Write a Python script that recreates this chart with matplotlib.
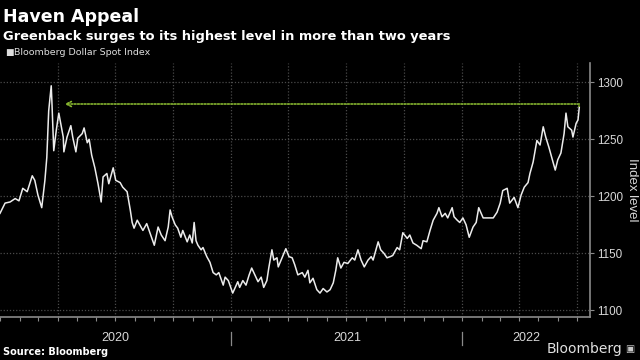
import matplotlib
matplotlib.use("Agg")
import matplotlib.pyplot as plt
import matplotlib.dates as mdates
import pandas as pd

dates = [
    "2020-01-01","2020-01-09","2020-01-17","2020-01-25","2020-01-31","2020-02-06","2020-02-13","2020-02-21",
    "2020-02-25","2020-03-01","2020-03-07","2020-03-12","2020-03-15","2020-03-18","2020-03-22","2020-03-23",
    "2020-03-26","2020-03-30","2020-04-03","2020-04-10","2020-04-11","2020-04-16","2020-04-22","2020-04-25",
    "2020-04-30","2020-05-03","2020-05-10","2020-05-13","2020-05-18","2020-05-21","2020-05-25","2020-05-30",
    "2020-06-04","2020-06-09","2020-06-12","2020-06-18","2020-06-21","2020-06-28","2020-07-02","2020-07-09",
    "2020-07-13","2020-07-20","2020-07-25","2020-07-28","2020-07-31","2020-08-05","2020-08-09","2020-08-14",
    "2020-08-20","2020-08-25","2020-09-01","2020-09-07","2020-09-12","2020-09-18","2020-09-23","2020-09-26",
    "2020-09-29","2020-10-04","2020-10-08","2020-10-13","2020-10-16","2020-10-23","2020-10-27","2020-10-31",
    "2020-11-03","2020-11-06","2020-11-09","2020-11-14","2020-11-17","2020-11-23","2020-11-28","2020-12-03",
    "2020-12-08","2020-12-12","2020-12-19","2020-12-22","2020-12-27",
    "2021-01-03","2021-01-07","2021-01-11","2021-01-14","2021-01-19","2021-01-24","2021-01-29","2021-02-02",
    "2021-02-07","2021-02-12","2021-02-17","2021-02-21","2021-02-26","2021-03-01","2021-03-06","2021-03-09",
    "2021-03-14","2021-03-16","2021-03-22","2021-03-28","2021-04-02","2021-04-07","2021-04-11","2021-04-16",
    "2021-04-23","2021-04-27","2021-05-02","2021-05-05","2021-05-10","2021-05-16","2021-05-21","2021-05-26",
    "2021-06-01","2021-06-06","2021-06-11","2021-06-15","2021-06-18","2021-06-23","2021-06-28","2021-07-04",
    "2021-07-11","2021-07-15","2021-07-20","2021-07-25","2021-07-30","2021-08-05","2021-08-10","2021-08-13",
    "2021-08-21","2021-08-25","2021-08-30","2021-09-04","2021-09-09","2021-09-13","2021-09-20","2021-09-24",
    "2021-09-29","2021-10-06","2021-10-10","2021-10-15","2021-10-21","2021-10-28","2021-10-31","2021-11-06",
    "2021-11-11","2021-11-16","2021-11-22","2021-11-25","2021-11-30","2021-12-05","2021-12-09","2021-12-16",
    "2021-12-19","2021-12-24","2021-12-28",
    "2022-01-02","2022-01-07","2022-01-12","2022-01-18","2022-01-23","2022-01-27","2022-02-03","2022-02-11",
    "2022-02-19","2022-02-25","2022-03-02","2022-03-06","2022-03-13","2022-03-17","2022-03-24","2022-03-30",
    "2022-04-04","2022-04-09","2022-04-15","2022-04-18","2022-04-23","2022-04-29","2022-05-04","2022-05-09",
    "2022-05-13","2022-05-18","2022-05-23","2022-05-28","2022-06-01","2022-06-06","2022-06-11","2022-06-14",
    "2022-06-17","2022-06-23","2022-06-25","2022-06-30","2022-07-03","2022-07-05",
]
values = [
    1185,1194,1195,1198,1196,1207,1204,1218,
    1214,1201,1190,1214,1234,1275,1297,1284,
    1240,1258,1273,1252,1239,1252,1262,1252,
    1239,1251,1255,1260,1247,1250,1236,1225,
    1211,1195,1217,1220,1211,1225,1214,1212,
    1208,1204,1188,1177,1172,1179,1175,1170,
    1176,1168,1157,1173,1166,1161,1173,1188,
    1182,1175,1172,1164,1170,1160,1166,1159,
    1177,1161,1157,1153,1155,1147,1142,1133,
    1131,1133,1122,1129,1126,
    1115,1120,1125,1120,1126,1122,1131,1137,
    1131,1125,1129,1120,1126,1137,1153,1144,
    1146,1138,1146,1154,1147,1146,1140,1131,
    1133,1129,1135,1124,1128,1118,1115,1119,
    1116,1118,1124,1135,1146,1137,1142,1141,
    1146,1144,1153,1144,1138,1144,1147,1144,
    1160,1153,1150,1146,1147,1148,1155,1153,
    1168,1163,1166,1159,1157,1154,1161,1160,
    1170,1179,1185,1190,1182,1185,1181,1190,
    1182,1179,1177,
    1181,1175,1164,1173,1177,1190,1181,1181,
    1181,1186,1194,1205,1207,1194,1199,1190,
    1201,1208,1212,1220,1230,1249,1245,1261,
    1252,1243,1233,1223,1232,1238,1255,1273,
    1261,1258,1252,1264,1267,1278,
]

yticks = [1100, 1150, 1200, 1250, 1300]
year_labels = ["2020", "2021", "2022"]
year_starts = ["2020-01-01", "2021-01-01", "2022-01-01"]
arrow_level = 1281
arrow_tip = "2020-04-12"

title = "Haven Appeal"
subtitle = "Greenback surges to its highest level in more than two years"
legend_label = "Bloomberg Dollar Spot Index"
source = "Source: Bloomberg"
ylabel = "Index level"

axis_font = "Liberation Sans"

x = pd.to_datetime(dates)

fig = plt.figure(figsize=(6.4, 3.6), dpi=100, facecolor="black")
ax = fig.add_axes([0.0, 0.1194, 0.9219, 0.7056], facecolor="black")

x0 = pd.Timestamp("2020-01-01")
x1 = pd.Timestamp("2022-07-22")
ax.set_xlim(x0, x1)
ax.set_ylim(1094, 1317)

grid_c = "#4a4a4a"
for yv in yticks:
    ax.axhline(yv, color=grid_c, lw=0.9, ls=(0, (1, 1.5)), zorder=1)
for q in pd.date_range("2020-04-01", "2022-07-01", freq="QS"):
    ax.axvline(q, color=grid_c, lw=0.9, ls=(0, (1, 1.5)), zorder=1)

ax.plot(x, values, color="#ececec", lw=1.1, zorder=3)

green = "#86b52f"
ax.plot([x[-1], x[-1]], [values[-1], arrow_level], color=green, lw=1.2, ls=(0, (1, 1)), zorder=4)
ax.annotate("", xy=(pd.Timestamp(arrow_tip), arrow_level), xytext=(x[-1], arrow_level),
            arrowprops=dict(arrowstyle="->", color=green, lw=1.2, ls=(0, (1, 1)),
                            mutation_scale=9, shrinkA=0, shrinkB=0), zorder=4)

for s in ["top", "left"]:
    ax.spines[s].set_visible(False)
for s in ["bottom", "right"]:
    ax.spines[s].set_color("#8a8a8a")
    ax.spines[s].set_linewidth(1.2)

ax.yaxis.tick_right()
ax.set_yticks(yticks)
ax.set_yticklabels([str(v) for v in yticks], family=axis_font)
ax.tick_params(axis="y", colors="#8a8a8a", labelcolor="#d8d8d8", labelsize=8.4, length=3, pad=2)
fig.text(0.987, 0.472, ylabel, rotation=270, color="#d8d8d8", fontsize=9.5,
         family=axis_font, ha="center", va="center")

ax.xaxis.set_minor_locator(mdates.MonthLocator())
ax.set_xticks([])
ax.tick_params(axis="x", which="minor", colors="#8a8a8a", length=3, width=0.8)
xt = ax.get_xaxis_transform()
for ys in year_starts[1:]:
    ax.plot([pd.Timestamp(ys)] * 2, [-0.058, -0.11], transform=xt, color="#8a8a8a",
            lw=0.9, clip_on=False)
ends = [pd.Timestamp(s) for s in year_starts[1:]] + [x1]
for lab, a, b in zip(year_labels, year_starts, ends):
    a = pd.Timestamp(a)
    ax.text(a + (b - a) / 2, -0.082, lab, transform=xt, family=axis_font,
            ha="center", va="center", color="#d8d8d8", fontsize=9)

fig.text(0.004, 0.978, title, color="white", fontsize=12.5, fontweight="bold", va="top", ha="left")
fig.text(0.004, 0.918, subtitle, color="white", fontsize=9.4, fontweight="bold", va="top", ha="left")
fig.text(0.008, 0.853, "\u25A0", color="#dddddd", fontsize=6.5, va="center", ha="left")
fig.text(0.022, 0.853, legend_label, color="#dddddd", fontsize=6.8, va="center", ha="left")
fig.text(0.004, 0.008, source, color="white", fontsize=7, fontweight="bold", va="bottom", ha="left")
fig.text(0.972, 0.01, "Bloomberg", color="#e0e0e0", fontsize=10, va="bottom", ha="right")
fig.text(0.976, 0.016, "\u25A3", color="#c8c8c8", fontsize=7, va="bottom", ha="left")

fig.savefig("out.png", dpi=100, facecolor="black")
